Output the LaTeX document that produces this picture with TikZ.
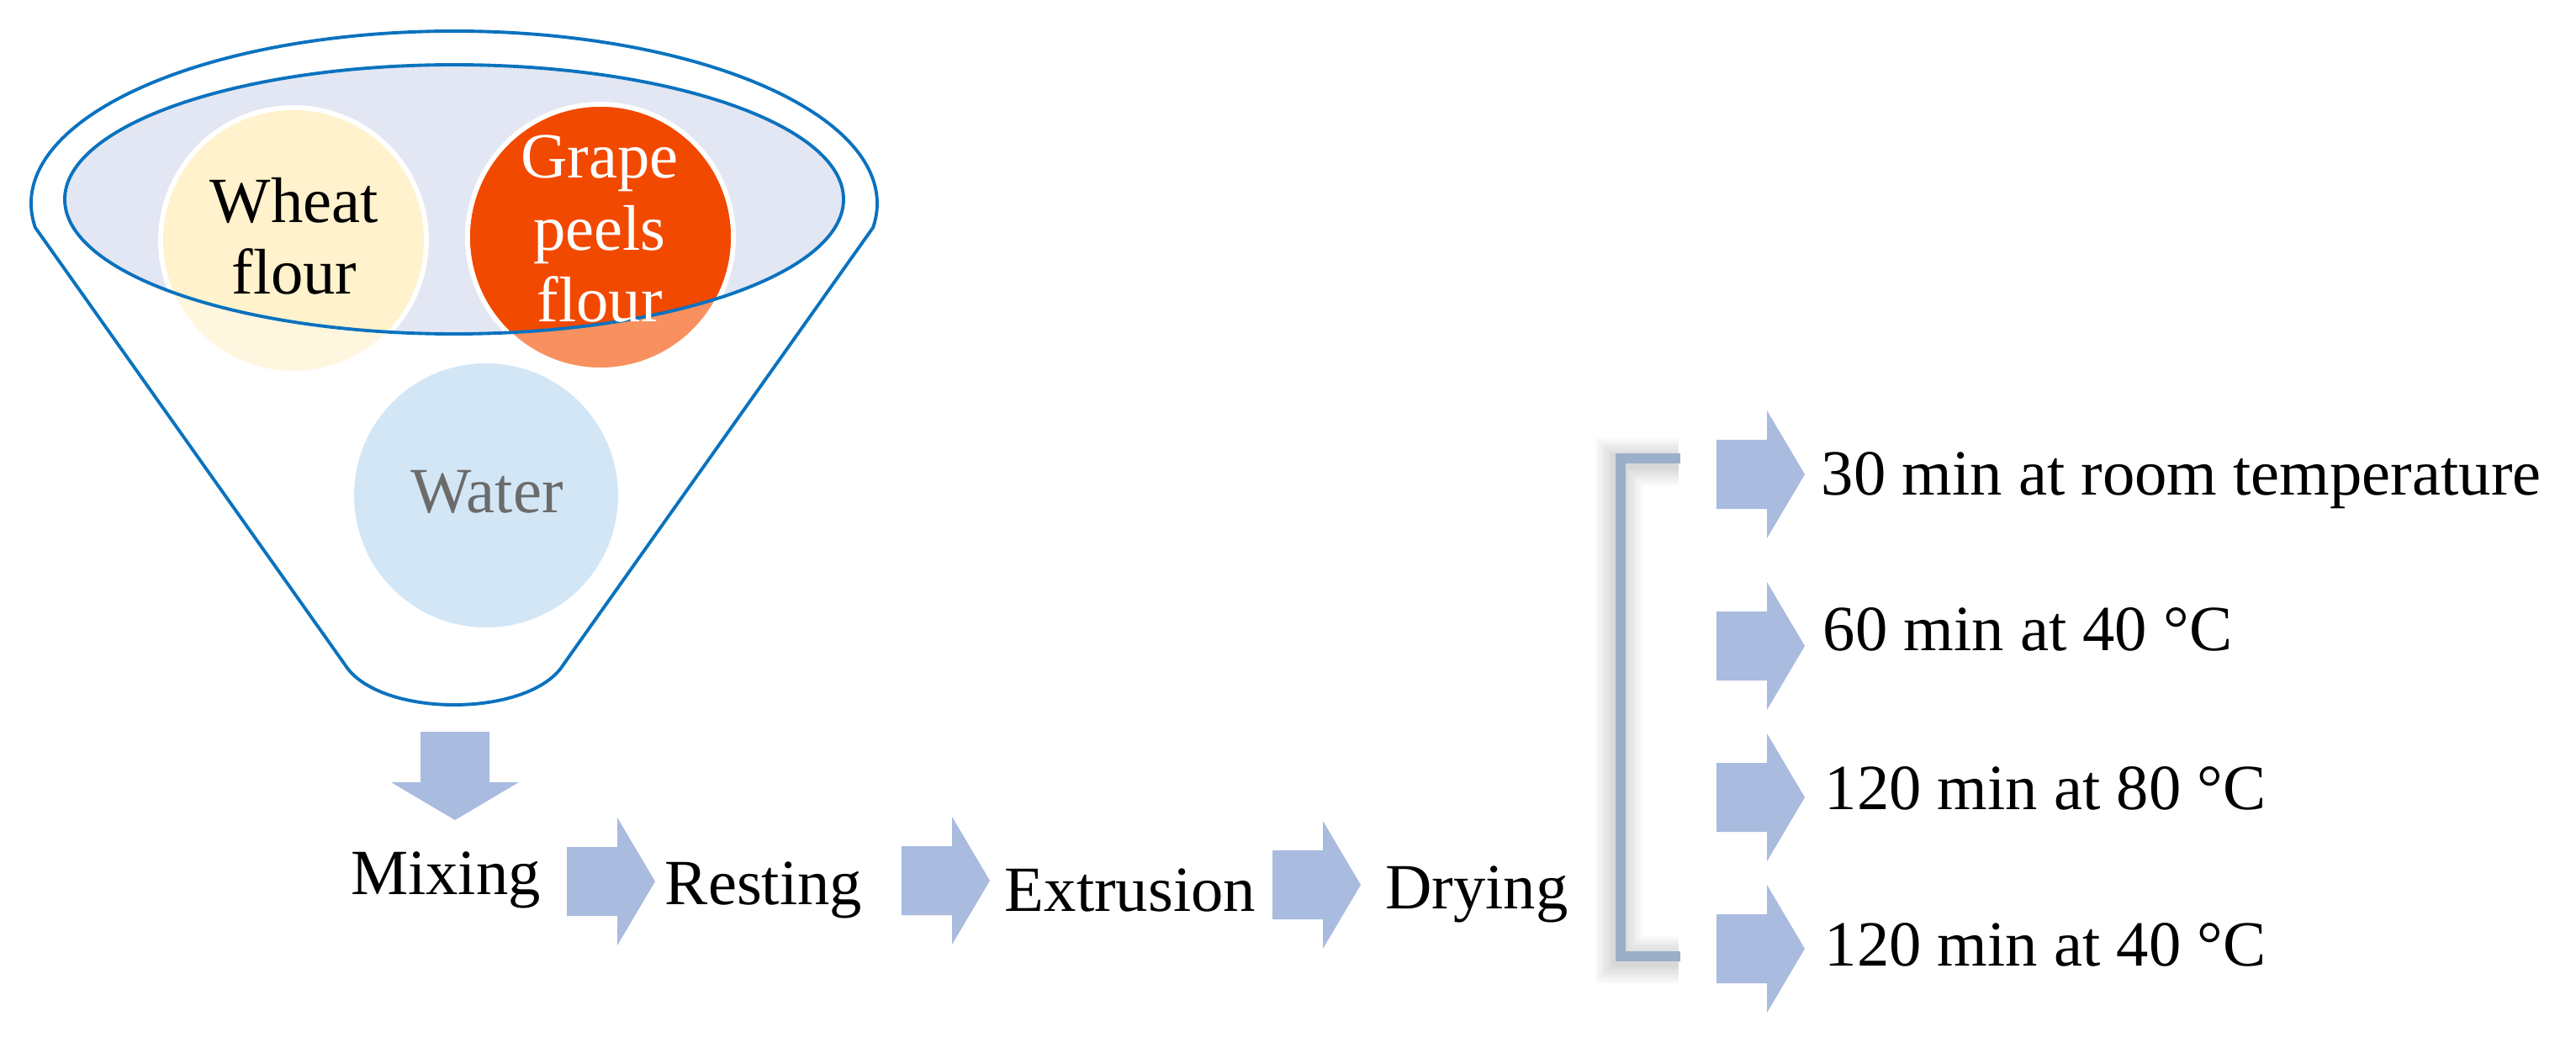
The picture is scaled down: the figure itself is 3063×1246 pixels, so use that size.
\documentclass[tikz,border=0pt]{standalone}
\usepackage{fontspec}
\setmainfont{Liberation Serif}
\definecolor{funnelblue}{HTML}{0A72BF}
\definecolor{lavender}{HTML}{E3E6F3}
\definecolor{wheatin}{HTML}{FFF2CC}
\definecolor{wheatout}{HTML}{FFF6E0}
\definecolor{grapein}{HTML}{F24900}
\definecolor{grapeout}{HTML}{F8915F}
\definecolor{waterfill}{HTML}{D2E6F6}
\definecolor{watertext}{HTML}{6B6B6B}
\definecolor{arrowfill}{HTML}{A9BBDF}
\definecolor{bracketcol}{HTML}{9CAFC9}
\tikzset{
  lbl/.style={font=\fontsize{21.8pt}{24.2pt}\selectfont, inner sep=0pt, align=center},
  blockarrow/.pic={\fill[arrowfill] (0,-41) -- (60,-41) -- (60,-76) -- (105,0) -- (60,76) -- (60,41) -- (0,41) -- cycle;},
  outline/.style={draw=funnelblue, line width=1.1pt}
}
\begin{document}
\begin{tikzpicture}[x=0.01cm,y=-0.01cm]
\useasboundingbox (0,0) rectangle (3063,1246);
% inner ellipse fill
\fill[lavender] (540,237) ellipse [x radius=463, y radius=160];
% circles (light parts)
\fill[wheatout, draw=white, line width=1.7pt] (349,286) circle [radius=158];
\fill[grapeout, draw=white, line width=1.7pt] (714,282) circle [radius=158];
\begin{scope}
  \clip (540,237) ellipse [x radius=463, y radius=160];
  \fill[wheatin] (349,286) circle [radius=155];
  \fill[grapein] (714,282) circle [radius=155];
\end{scope}
\fill[waterfill] (578,589) circle [radius=157];
% outlines
\draw[outline] (540,237) ellipse [x radius=463, y radius=160];
\draw[outline] (41.9,270.5) arc [start angle=172, end angle=368, x radius=503, y radius=205]
  -- (670,790) .. controls (630,854) and (450,854) .. (410,790) -- cycle;
% texts in funnel
\node[lbl] (wheat) at (350,281) {Wheat\\flour};
\node[lbl, text=white] (grape) at (713,272) {Grape\\peels\\flour};
\node[lbl, text=watertext, anchor=base] (water) at (579,610) {Water};
% block arrows
\pic[rotate=-90] at (541,870) {blockarrow};
\pic at (674,1048) {blockarrow};
\pic at (1072,1047) {blockarrow};
\pic at (1513,1052) {blockarrow};
\pic at (2041,564) {blockarrow};
\pic at (2041,768) {blockarrow};
\pic at (2041,948) {blockarrow};
\pic at (2041,1128) {blockarrow};
% bracket with soft shadow
\foreach \w in {16,14,12,10,8,6.5,5} {
  \draw[black, opacity=0.025, line width=\w pt, shift={(-2,4)}]
    (1998,545) -- (1927,545) -- (1927,1137) -- (1998,1137);
}
\draw[bracketcol, line width=3.4pt] (1998,545) -- (1927,545) -- (1927,1137) -- (1998,1137);
% process labels
\node[lbl, anchor=base] (mix) at (530,1063) {Mixing};
\node[lbl, anchor=base] (rest) at (908,1075) {Resting};
\node[lbl, anchor=base] (extr) at (1344,1083) {Extrusion};
\node[lbl, anchor=base] (dry) at (1756,1080) {Drying};
\node[lbl, anchor=base west] (t1) at (2165,588) {30 min at room temperature};
\node[lbl, anchor=base west] (t2) at (2167,773) {60 min at 40 °C};
\node[lbl, anchor=base west] (t3) at (2169,962) {120 min at 80 °C};
\node[lbl, anchor=base west] (t4) at (2169,1148) {120 min at 40 °C};
\end{tikzpicture}
\end{document}
